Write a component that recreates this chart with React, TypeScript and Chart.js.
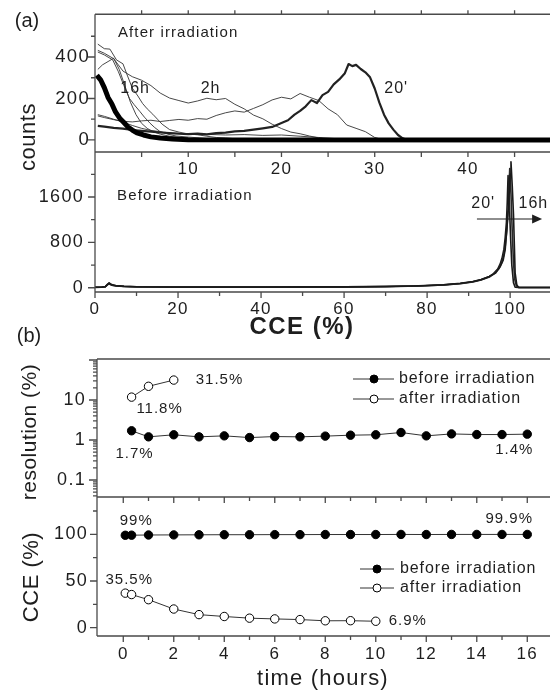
import { useEffect, useRef } from "react";
import { Chart, registerables } from "chart.js";

Chart.register(...registerables);

const FONT = "'Liberation Sans', Arial, Helvetica, sans-serif";
const INK = "#1e1e1e";
const FRAME = "#4a4a4a";
const W = 550;
const H = 693;

// ---------------- (a) top: spectra after irradiation (x: CCE %, y: counts)
const after16hX = [0.2, 0.6, 1.0, 1.4, 1.8, 2.2, 2.7, 3.1, 3.5, 4.0, 4.5, 5.2, 6.0, 7.0, 8.3, 10, 48.8];
const after16hY = [312, 290, 252, 205, 175, 135, 102, 84, 64, 48, 34, 24, 15, 9, 5, 1, 0];
const after20mX = [0.3, 1, 2, 3, 4, 5, 6, 7, 8, 9, 10, 11, 12, 13, 14, 15, 16, 17, 18, 19, 20, 20.7, 21.4, 22, 22.6, 23.2, 23.8, 24.4, 25, 25.6, 26.2, 26.8, 27.2, 27.6, 28, 28.5, 29, 29.5, 30, 30.5, 31, 31.5, 32, 32.5, 33, 33.5, 48.8];
const after20mY = [68, 64, 58, 55, 48, 44, 40, 36, 33, 30, 28, 31, 27, 33, 35, 41, 44, 50, 56, 63, 82, 95, 122, 140, 162, 192, 178, 216, 232, 268, 292, 322, 366, 356, 362, 342, 326, 302, 248, 180, 122, 80, 50, 24, 8, 0, 0];
const after40mX = [0.3, 1, 2, 3, 4, 5, 6, 7, 8, 10, 12, 14, 16, 18, 20, 22, 24, 26, 28, 48.8];
const after40mY = [122, 114, 100, 86, 70, 56, 46, 40, 34, 30, 27, 24, 26, 22, 24, 18, 12, 6, 0, 0];
const after1hX = [0.3, 1, 2, 3, 4, 5, 6, 7, 8, 9, 10, 11, 12, 13, 14, 15, 16, 17, 18, 19, 20, 21, 22, 23, 24, 25, 26, 27, 28, 29, 30, 31, 48.8];
const after1hY = [116, 108, 98, 90, 87, 92, 95, 89, 94, 99, 95, 103, 100, 118, 131, 140, 134, 152, 170, 193, 206, 198, 224, 206, 190, 150, 122, 72, 56, 40, 12, 0, 0];
const after2hX = [0.3, 1, 2, 3, 4, 5, 6, 7, 8, 9, 10, 11, 12, 13, 14, 15, 16, 17, 18, 19, 20, 21, 22, 23, 24, 25, 26, 48.8];
const after2hY = [432, 418, 392, 332, 305, 288, 262, 226, 202, 190, 178, 188, 201, 194, 200, 172, 150, 120, 102, 76, 55, 38, 30, 19, 10, 4, 0, 0];
const after3hX = [0.3, 1, 1.6, 2.3, 3, 3.4, 4, 4.6, 5.1, 5.6, 6.2, 6.7, 7.2, 8, 9, 10, 11, 12, 13, 14, 15, 16, 18, 20, 48.8];
const after3hY = [462, 440, 438, 386, 367, 319, 250, 212, 176, 150, 124, 100, 76, 50, 38, 29, 25, 18, 12, 10, 6, 4, 2, 0, 0];
const after4hX = [0.3, 1, 1.9, 2.5, 3.1, 3.7, 4.2, 4.8, 5.3, 5.9, 6.4, 6.9, 7.8, 8.7, 10, 11.2, 12.5, 14, 48.8];
const after4hY = [424, 410, 386, 330, 262, 200, 170, 138, 110, 81, 60, 43, 28, 19, 14, 10, 5, 0, 0];
const after6hX = [0.3, 0.8, 1.4, 2, 2.6, 3.2, 3.8, 4.4, 5, 5.6, 6.2, 7, 8, 9, 10, 12, 48.8];
const after6hY = [340, 362, 378, 394, 340, 262, 182, 122, 80, 56, 40, 28, 18, 12, 8, 0, 0];
const afterTickLabels = [10, 20, 30, 40];
const afterCountLabels = [0, 200, 400];

// ---------------- (a) bottom: spectra before irradiation
const before20mX = [0, 1.5, 2.5, 3, 3.4, 4, 5, 7, 10, 20, 40, 60, 70, 78, 84, 88, 91, 93, 95, 96, 97, 97.6, 98.1, 98.5, 98.8, 99.1, 99.3, 99.5, 99.8, 100.1, 100.4, 100.8, 101.2, 102, 110];
const before20mY = [8, 10, 20, 55, 80, 50, 35, 25, 18, 12, 12, 16, 22, 32, 50, 75, 105, 140, 200, 250, 330, 420, 540, 680, 880, 1150, 1500, 1980, 1500, 900, 400, 90, 10, 4, 4];
const before8hX = [0, 1.5, 2.5, 3, 3.4, 4, 5, 7, 10, 20, 40, 60, 70, 78, 84, 88, 91, 93, 95, 96.2, 97.2, 97.9, 98.4, 98.8, 99.2, 99.5, 99.7, 99.9, 100.2, 100.5, 100.8, 101.1, 101.5, 102.2, 110];
const before8hY = [6, 8, 18, 50, 70, 45, 32, 22, 16, 10, 10, 14, 20, 30, 48, 72, 100, 135, 190, 250, 330, 430, 560, 720, 1000, 1350, 1700, 2100, 1650, 1000, 450, 150, 30, 4, 4];
const before16hX = [0, 1.5, 2.5, 3, 3.4, 4, 5, 7, 10, 20, 40, 60, 70, 78, 84, 88, 91, 93, 95, 96.5, 97.6, 98.3, 98.8, 99.3, 99.6, 99.8, 100, 100.2, 100.5, 100.8, 101.2, 101.6, 102, 110];
const before16hY = [8, 10, 20, 60, 85, 55, 38, 26, 18, 12, 12, 16, 22, 34, 52, 80, 110, 145, 200, 260, 370, 480, 668, 1143, 1450, 1723, 2000, 2220, 1800, 1300, 264, 53, 5, 5];
const beforeTickLabels = [0, 20, 40, 60, 80, 100];
const beforeCountLabels = [0, 800, 1600];

// ---------------- (b) resolution and CCE vs time
const resTimeBefore = [0.33, 1, 2, 3, 4, 5, 6, 7, 8, 9, 10, 11, 12, 13, 14, 15, 16];
const resBefore = [1.7, 1.2, 1.35, 1.2, 1.27, 1.15, 1.22, 1.2, 1.25, 1.32, 1.35, 1.54, 1.27, 1.42, 1.37, 1.37, 1.4];
const resTimeAfter = [0.33, 1, 2];
const resAfter = [11.8, 22, 31.5];
const cceTimeBefore = [0.08, 0.33, 1, 2, 3, 4, 5, 6, 7, 8, 9, 10, 11, 12, 13, 14, 15, 16];
const cceBefore = [99, 99.1, 99.3, 99.4, 99.5, 99.6, 99.6, 99.7, 99.7, 99.8, 99.8, 99.8, 99.9, 99.8, 99.9, 99.9, 99.9, 99.9];
const cceTimeAfter = [0.08, 0.33, 1, 2, 3, 4, 5, 6, 7, 8, 9, 10];
const cceAfter = [37, 35.5, 30, 20, 14, 12, 10.2, 9.4, 8.7, 7.4, 7.5, 6.9];
const timeTickLabels = [0, 2, 4, 6, 8, 10, 12, 14, 16];
const resTickLabels = [0.1, 1, 10];
const cceTickLabels = [0, 50, 100];

const pts = (xs: number[], ys: number[]) => xs.map((x, i) => ({ x, y: ys[i] }));
const range = (a: number, b: number, s: number) => {
  const r: number[] = [];
  for (let v = a; v <= b + 1e-9; v += s) r.push(+v.toFixed(4));
  return r;
};

const framePlugin = {
  id: "frame",
  afterDraw(chart: any, _a: any, o: any) {
    if (!o || !o.sides) return;
    const { ctx } = chart;
    const { left, right, top, bottom } = chart.chartArea;
    ctx.save();
    ctx.strokeStyle = FRAME;
    ctx.lineWidth = 1.3;
    ctx.beginPath();
    if (o.sides.includes("top")) { ctx.moveTo(left, top); ctx.lineTo(right, top); }
    if (o.sides.includes("bottom")) { ctx.moveTo(left, bottom); ctx.lineTo(right, bottom); }
    if (o.sides.includes("left")) { ctx.moveTo(left, top); ctx.lineTo(left, bottom); }
    for (const t of o.ticks || []) {
      const sc = chart.scales[t.axis];
      for (const v of t.values) {
        const p = sc.getPixelForValue(v);
        if (t.side === "left") { ctx.moveTo(left, p); ctx.lineTo(left - t.len, p); }
        else if (t.side === "bottom") { ctx.moveTo(p, bottom); ctx.lineTo(p, bottom + t.len); }
        else if (t.side === "top") { ctx.moveTo(p, top); ctx.lineTo(p, top - t.len); }
      }
    }
    ctx.stroke();
    ctx.restore();
  },
};

const textPlugin = {
  id: "texts",
  beforeDraw(chart: any) {
    (chart.ctx as any).letterSpacing = "1.3px";
  },
  afterDraw(chart: any, _a: any, o: any) {
    const { ctx } = chart;
    const put = (text: string, x: number, y: number, size: number, align: string, spacing: number, rotate = 0, weight = "normal") => {
      ctx.save();
      ctx.font = `${weight} ${size}px ${FONT}`;
      (ctx as any).letterSpacing = spacing + "px";
      ctx.fillStyle = INK;
      ctx.textAlign = align;
      ctx.textBaseline = "middle";
      ctx.translate(x, y);
      if (rotate) ctx.rotate(rotate);
      ctx.fillText(text, 0, 0);
      ctx.restore();
    };
    for (const t of o.items || []) {
      let x = t.x;
      let y = t.y;
      if (t.data) {
        x = chart.scales.x.getPixelForValue(t.x);
        y = chart.scales.y.getPixelForValue(t.y);
      }
      x += t.dx || 0;
      y += t.dy || 0;
      put(t.text, x, y, t.size || 15, t.align || "center", t.spacing ?? 1, t.rotate || 0, t.weight || "normal");
    }
    for (const a of o.arrows || []) {
      const x0 = chart.scales.x.getPixelForValue(a.x0);
      const x1 = chart.scales.x.getPixelForValue(a.x1);
      const y = chart.scales.y.getPixelForValue(a.y);
      ctx.save();
      ctx.strokeStyle = INK;
      ctx.fillStyle = INK;
      ctx.lineWidth = 1.2;
      ctx.beginPath();
      ctx.moveTo(x0, y);
      ctx.lineTo(x1 - 6, y);
      ctx.stroke();
      ctx.beginPath();
      ctx.moveTo(x1, y);
      ctx.lineTo(x1 - 10, y - 4.5);
      ctx.lineTo(x1 - 10, y + 4.5);
      ctx.closePath();
      ctx.fill();
      ctx.restore();
    }
    for (const l of o.legend || []) {
      ctx.save();
      ctx.strokeStyle = "#333";
      ctx.lineWidth = 1;
      ctx.beginPath();
      ctx.moveTo(l.x0, l.y);
      ctx.lineTo(l.x1, l.y);
      ctx.stroke();
      ctx.beginPath();
      ctx.arc(l.mx, l.y, 4, 0, Math.PI * 2);
      ctx.fillStyle = l.filled ? "#000" : "#fff";
      ctx.fill();
      ctx.strokeStyle = "#000";
      ctx.stroke();
      ctx.restore();
      put(l.text, l.tx, l.y, 16, "left", 0.9);
    }
  },
};

function axis(o: any) {
  return {
    type: o.type || "linear",
    position: o.pos,
    min: o.min,
    max: o.max,
    afterFit: (s: any) => {
      if (o.pos === "left") s.width = o.size;
      else s.height = o.size;
    },
    afterBuildTicks: (s: any) => {
      s.ticks = (o.labels || []).map((v: number) => ({ value: v }));
    },
    grid: { display: false, drawTicks: false },
    border: { display: false },
    ticks: {
      display: o.showLabels !== false,
      padding: o.pad || 0,
      color: INK,
      font: { family: FONT, size: o.font || 17, lineHeight: 1 },
      maxRotation: 0,
      minRotation: 0,
      autoSkip: false,
      callback: (v: any) => String(v),
    },
  };
}

function options(padTop: number, padBottom: number, scales: any, frame: any, texts: any) {
  return {
    responsive: false,
    maintainAspectRatio: false,
    animation: false,
    devicePixelRatio: 1,
    events: [],
    layout: { padding: { top: padTop, bottom: padBottom, left: 0, right: 0 }, autoPadding: false },
    plugins: { legend: { display: false }, tooltip: { enabled: false }, frame, texts },
    scales,
  };
}

const spec = (xs: number[], ys: number[], width: number, color: string) => ({
  data: pts(xs, ys),
  borderColor: color,
  borderWidth: width,
  pointRadius: 0,
  fill: false,
  tension: 0,
  borderJoinStyle: "round",
});

const marks = (xs: number[], ys: number[], filled: boolean) => ({
  data: pts(xs, ys),
  borderColor: "#333",
  borderWidth: 1,
  pointRadius: 4.2,
  pointBackgroundColor: filled ? "#000" : "#fff",
  pointBorderColor: "#000",
  pointBorderWidth: 1,
  fill: false,
  tension: 0,
});

function afterConfig() {
  return {
    type: "line",
    data: {
      datasets: [
        spec(after16hX, after16hY, 5, "#000"),
        spec(after20mX, after20mY, 2.2, "#222"),
        spec(after40mX, after40mY, 0.9, "#333"),
        spec(after1hX, after1hY, 0.9, "#333"),
        spec(after2hX, after2hY, 0.9, "#333"),
        spec(after3hX, after3hY, 0.9, "#333"),
        spec(after4hX, after4hY, 0.9, "#333"),
        spec(after6hX, after6hY, 0.9, "#333"),
      ],
    },
    options: options(
      14,
      H - 152 - 32,
      {
        x: axis({ pos: "bottom", min: 0, max: 48.8, size: 32, labels: afterTickLabels, pad: 9 }),
        y: axis({ pos: "left", min: -58, max: 606, size: 95, labels: afterCountLabels, pad: 5, font: 18.5 }),
      },
      {
        sides: ["top", "left", "bottom"],
        ticks: [
          { axis: "y", side: "left", values: afterCountLabels, len: 7 },
          { axis: "y", side: "left", values: [100, 300, 500], len: 4 },
          { axis: "x", side: "bottom", values: range(5, 45, 5), len: 5 },
          { axis: "x", side: "top", values: range(5, 45, 5), len: 4 },
        ],
      },
      {
        items: [
          { text: "(a)", x: 27, y: 21, size: 20, spacing: 0 },
          { text: "counts", x: 29, y: 137, size: 22, spacing: 0.5, rotate: -Math.PI / 2 },
          { text: "After irradiation", x: 118, y: 33, size: 15, align: "left", spacing: 1.1 },
          { text: "16h", data: true, x: 4.3, y: 247, size: 16, spacing: 1 },
          { text: "2h", data: true, x: 12.4, y: 247, size: 16, spacing: 1 },
          { text: "20'", data: true, x: 32.3, y: 247, size: 16, spacing: 1 },
        ],
      }
    ),
  };
}

function beforeConfig() {
  return {
    type: "line",
    data: {
      datasets: [
        spec(before16hX, before16hY, 1.6, "#1a1a1a"),
        spec(before8hX, before8hY, 1.6, "#2a2a2a"),
        spec(before20mX, before20mY, 1.6, "#1a1a1a"),
      ],
    },
    options: options(
      152,
      H - 292 - 48,
      {
        x: axis({ pos: "bottom", min: 0, max: 109.6, size: 48, labels: beforeTickLabels, pad: 9 }),
        y: axis({ pos: "left", min: -75, max: 2393, size: 95, labels: beforeCountLabels, pad: 11, font: 18 }),
      },
      {
        sides: ["left", "bottom"],
        ticks: [
          { axis: "y", side: "left", values: beforeCountLabels, len: 7 },
          { axis: "y", side: "left", values: [400, 1200, 2000], len: 4 },
          { axis: "x", side: "bottom", values: beforeTickLabels, len: 6 },
          { axis: "x", side: "bottom", values: range(10, 90, 20), len: 4 },
        ],
      },
      {
        items: [
          { text: "Before irradiation", x: 117, y: 196, size: 15, align: "left", spacing: 1.2 },
          { text: "20'", data: true, x: 93.5, y: 1476, size: 16, spacing: 1 },
          { text: "16h", data: true, x: 105.6, y: 1476, size: 16, spacing: 1 },
          { text: "CCE (%)", x: 302, y: 327, size: 24, spacing: 1.5, weight: "bold" },
        ],
        arrows: [{ x0: 92, x1: 107.7, y: 1212 }],
      }
    ),
  };
}

function resConfig() {
  const minor: number[] = [];
  for (const d of [0.01, 0.1, 1, 10]) for (let k = 2; k <= 9; k++) minor.push(+(d * k).toFixed(4));
  return {
    type: "line",
    data: { datasets: [marks(resTimeBefore, resBefore, true), marks(resTimeAfter, resAfter, false)] },
    options: options(
      359,
      H - 497 - 6,
      {
        x: axis({ pos: "bottom", min: -1.04, max: 16.9, size: 6, labels: [], showLabels: false }),
        y: axis({ type: "logarithmic", pos: "left", min: 0.0376, max: 105.9, size: 97, labels: resTickLabels, pad: 11, font: 18 }),
      },
      {
        sides: ["top", "left", "bottom"],
        ticks: [
          { axis: "y", side: "left", values: [0.1, 1, 10, 100], len: 8 },
          { axis: "y", side: "left", values: minor.filter((v) => v > 0.038 && v < 105), len: 4 },
          { axis: "x", side: "bottom", values: timeTickLabels, len: 6 },
          { axis: "x", side: "bottom", values: range(1, 15, 2), len: 4 },
        ],
      },
      {
        items: [
          { text: "(b)", x: 29, y: 336, size: 20, spacing: 0 },
          { text: "resolution (%)", x: 30, y: 432, size: 21, spacing: 0.5, rotate: -Math.PI / 2 },
          { text: "31.5%", data: true, x: 2, y: 31.5, dx: 22, dy: 0, align: "left", size: 15, spacing: 1 },
          { text: "11.8%", data: true, x: 0.33, y: 11.8, dx: 28, dy: 12, size: 15, spacing: 1 },
          { text: "1.7%", data: true, x: 0.33, y: 1.7, dx: 3, dy: 23, size: 15, spacing: 1 },
          { text: "1.4%", data: true, x: 16, y: 1.4, dx: -13, dy: 16, size: 15, spacing: 1 },
        ],
        legend: [
          { x0: 353, x1: 394, mx: 374, y: 379, tx: 399, filled: true, text: "before irradiation" },
          { x0: 353, x1: 394, mx: 374, y: 399, tx: 399, filled: false, text: "after irradiation" },
        ],
      }
    ),
  };
}

function cceConfig() {
  return {
    type: "line",
    data: { datasets: [marks(cceTimeBefore, cceBefore, true), marks(cceTimeAfter, cceAfter, false)] },
    options: options(
      497,
      H - 636 - 30,
      {
        x: axis({ pos: "bottom", min: -1.04, max: 16.9, size: 30, labels: timeTickLabels, pad: 10 }),
        y: axis({ pos: "left", min: -8.9, max: 140, size: 97, labels: cceTickLabels, pad: 9, font: 18 }),
      },
      {
        sides: ["left", "bottom"],
        ticks: [
          { axis: "y", side: "left", values: cceTickLabels, len: 7 },
          { axis: "y", side: "left", values: [25, 75, 125], len: 4 },
          { axis: "x", side: "bottom", values: timeTickLabels, len: 6 },
          { axis: "x", side: "bottom", values: range(1, 15, 2), len: 4 },
        ],
      },
      {
        items: [
          { text: "CCE (%)", x: 32, y: 577, size: 22, spacing: 0.5, rotate: -Math.PI / 2 },
          { text: "99%", data: true, x: 0.08, y: 99, dx: 11, dy: -14, size: 15, spacing: 1 },
          { text: "99.9%", data: true, x: 16, y: 99.9, dx: -18, dy: -16, size: 15, spacing: 1 },
          { text: "35.5%", data: true, x: 0.08, y: 37, dx: 4, dy: -13, size: 15, spacing: 1 },
          { text: "6.9%", data: true, x: 10, y: 6.9, dx: 13, dy: 0, align: "left", size: 15, spacing: 1 },
          { text: "time (hours)", x: 323, y: 679, size: 22, spacing: 1.2 },
        ],
        legend: [
          { x0: 360, x1: 394, mx: 377, y: 569, tx: 400, filled: true, text: "before irradiation" },
          { x0: 360, x1: 394, mx: 377, y: 588, tx: 400, filled: false, text: "after irradiation" },
        ],
      }
    ),
  };
}

function Panel({ make }: { make: () => any }) {
  const ref = useRef<HTMLCanvasElement>(null);
  useEffect(() => {
    const cfg = make();
    cfg.plugins = [framePlugin, textPlugin];
    const chart = new Chart(ref.current as HTMLCanvasElement, cfg);
    return () => chart.destroy();
  }, [make]);
  return (
    <canvas
      ref={ref}
      width={W}
      height={H}
      style={{ position: "absolute", left: 0, top: 0, width: W, height: H }}
    />
  );
}

export default function App() {
  return (
    <div style={{ position: "absolute", left: 0, top: 0, width: W, height: H, background: "#fff", overflow: "hidden" }}>
      <Panel make={afterConfig} />
      <Panel make={beforeConfig} />
      <Panel make={resConfig} />
      <Panel make={cceConfig} />
    </div>
  );
}
